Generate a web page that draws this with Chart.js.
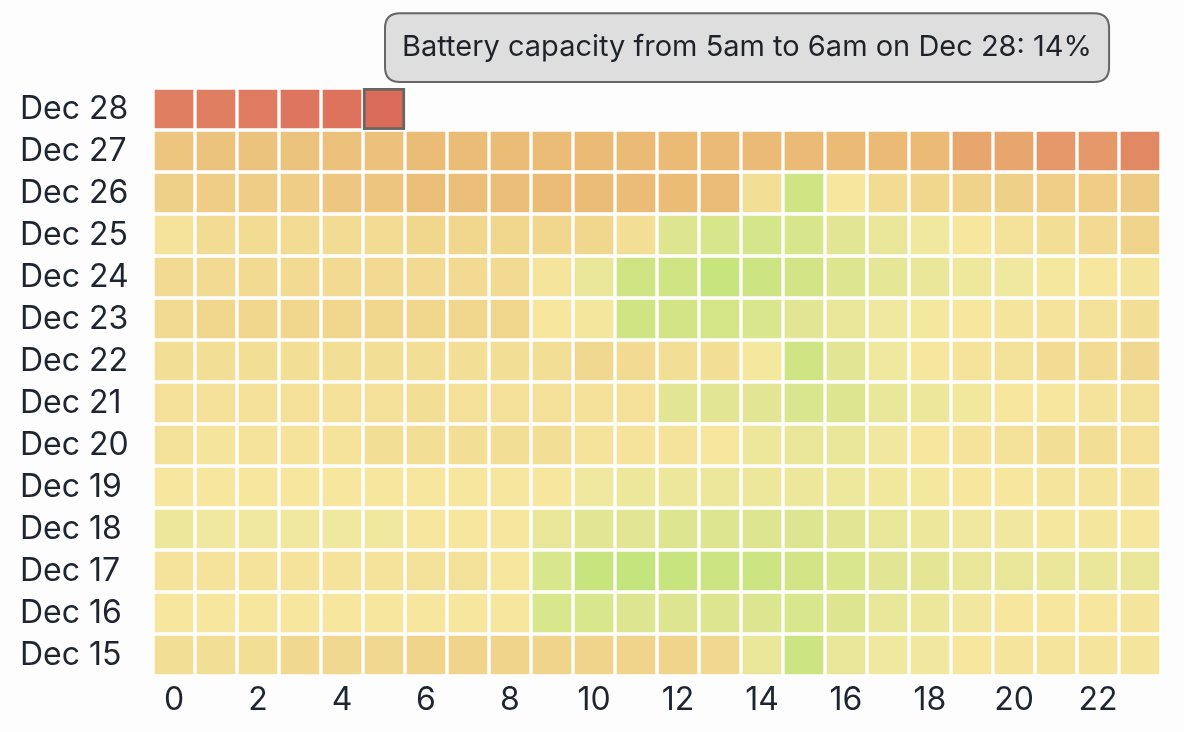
<!DOCTYPE html>
<html>
<head>
<meta charset="utf-8">
<script src="https://cdn.jsdelivr.net/npm/chart.js@4.4.1/dist/chart.umd.min.js"></script>
<style>
  html, body { margin: 0; padding: 0; background: #fdfdfd; }
  #wrap { position: relative; width: 1184px; height: 732px; }
</style>
</head>
<body>
<div id="wrap"><canvas id="c" width="1184" height="732"></canvas></div>
<script>
// ---- data (top to bottom rows) ----
const days = ['Dec 28', 'Dec 27', 'Dec 26', 'Dec 25', 'Dec 24', 'Dec 23', 'Dec 22',
              'Dec 21', 'Dec 20', 'Dec 19', 'Dec 18', 'Dec 17', 'Dec 16', 'Dec 15'];
const hours = [0,1,2,3,4,5,6,7,8,9,10,11,12,13,14,15,16,17,18,19,20,21,22,23];
const tickHours = [0,2,4,6,8,10,12,14,16,18,20,22];

const dec28 = [20, 20, 19, 17, 16, 14];
const dec27 = [46, 45, 45, 45, 44, 44, 41, 41, 41, 41, 40, 40, 40, 40, 40, 40, 40, 40, 40, 32, 32, 28, 28, 25];
const dec26 = [52, 50, 50, 50, 47, 46, 42, 42, 42, 41, 41, 41, 41, 41, 60, 91, 65, 59, 56, 54, 52, 51, 50, 49];
const dec25 = [63, 59, 59, 59, 59, 59, 56, 56, 56, 56, 56, 60, 81, 86, 87, 86, 78, 74, 70, 65, 62, 60, 58, 55];
const dec24 = [58, 58, 58, 58, 58, 58, 58, 58, 58, 64, 74, 91, 91, 96, 93, 89, 80, 76, 73, 71, 70, 67, 65, 64];
const dec23 = [58, 56, 56, 56, 56, 56, 56, 56, 56, 65, 66, 91, 89, 88, 84, 78, 75, 70, 67, 65, 64, 63, 62, 60];
const dec22 = [60, 60, 60, 60, 60, 60, 60, 60, 60, 60, 57, 58, 60, 60, 67, 91, 78, 70, 65, 63, 62, 59, 59, 57];
const dec21 = [61, 61, 61, 61, 61, 61, 60, 61, 61, 61, 61, 61, 78, 78, 78, 84, 82, 75, 72, 69, 65, 65, 63, 62];
const dec20 = [62, 64, 63, 63, 63, 60, 60, 60, 60, 60, 63, 63, 63, 65, 72, 75, 75, 68, 65, 63, 62, 60, 60, 61];
const dec19 = [65, 65, 65, 65, 65, 65, 65, 65, 65, 65, 70, 72, 72, 72, 72, 72, 71, 69, 67, 65, 65, 64, 64, 63];
const dec18 = [72, 70, 70, 70, 70, 70, 65, 65, 65, 75, 78, 78, 80, 80, 80, 82, 78, 75, 72, 70, 68, 67, 66, 65];
const dec17 = [63, 63, 63, 63, 63, 63, 62, 62, 65, 85, 96, 100, 96, 93, 93, 89, 84, 78, 77, 75, 75, 73, 73, 73];
const dec16 = [65, 65, 65, 65, 65, 65, 65, 65, 65, 85, 85, 80, 80, 80, 82, 85, 80, 75, 72, 68, 65, 65, 65, 64];
const dec15 = [60, 60, 60, 57, 57, 57, 55, 55, 55, 55, 55, 55, 55, 57, 73, 93, 75, 70, 68, 65, 64, 64, 64, 64];

const capacityByDay = [dec28, dec27, dec26, dec25, dec24, dec23, dec22,
                       dec21, dec20, dec19, dec18, dec17, dec16, dec15];

const hoveredDay = 'Dec 28';
const hoveredHour = 5;

// ---- colour scale ----
const colorStops = [
  [0, [212, 90, 82]], [14, [220, 108, 90]], [20, [224, 126, 98]], [25, [224, 137, 98]],
  [28, [229, 152, 105]], [32, [230, 166, 110]], [40, [235, 186, 116]], [45, [236, 195, 125]],
  [50, [239, 205, 134]], [55, [240, 212, 140]], [60, [243, 222, 150]], [65, [246, 230, 158]],
  [70, [240, 232, 158]], [75, [232, 230, 152]], [80, [222, 229, 145]], [85, [216, 230, 140]],
  [90, [209, 228, 132]], [95, [201, 228, 127]], [100, [196, 228, 125]]
];
function colorFor(v) {
  for (let i = 1; i < colorStops.length; i++) {
    const [v1, c1] = colorStops[i];
    const [v0, c0] = colorStops[i - 1];
    if (v <= v1) {
      const t = (v - v0) / (v1 - v0);
      const c = c0.map((a, k) => Math.round(a + (c1[k] - a) * t));
      return `rgb(${c[0]},${c[1]},${c[2]})`;
    }
  }
  const c = colorStops[colorStops.length - 1][1];
  return `rgb(${c[0]},${c[1]},${c[2]})`;
}
function hourLabel(h) {
  const hh = h % 24;
  if (hh === 0) return '12am';
  if (hh < 12) return hh + 'am';
  if (hh === 12) return '12pm';
  return (hh - 12) + 'pm';
}

// ---- build cells ----
const cells = [];
days.forEach((day, d) => {
  capacityByDay[d].forEach((v, i) => {
    const h = hours[i];
    cells.push({ x: [h - 0.5, h + 0.5], y: day, v: v, h: h });
  });
});

const FONT = "Inter, 'Noto Sans', 'DejaVu Sans', sans-serif";
const TEXT = '#1f2530';

Chart.Tooltip.positioners.aboveCell = function (items) {
  if (!items.length) return false;
  const el = items[0].element;
  const left = Math.min(el.x, el.base);
  return { x: left + 37, y: el.y - el.height / 2, xAlign: 'left', yAlign: 'bottom' };
};

const cellColor = ctx => colorFor(ctx.raw ? ctx.raw.v : 50);

const chart = new Chart(document.getElementById('c'), {
  type: 'bar',
  data: {
    labels: days,
    datasets: [{
      data: cells,
      backgroundColor: cellColor,
      hoverBackgroundColor: cellColor,
      borderColor: '#ffffff',
      hoverBorderColor: '#666666',
      borderWidth: 2,
      hoverBorderWidth: 3,
      borderSkipped: false,
      categoryPercentage: 1,
      barPercentage: 1,
      grouped: false
    }]
  },
  options: {
    indexAxis: 'y',
    responsive: false,
    animation: false,
    events: [],
    layout: { padding: { top: 88, right: 23, left: 20, bottom: 0 } },
    scales: {
      x: {
        type: 'linear',
        position: 'bottom',
        min: -0.5,
        max: 23.5,
        afterBuildTicks: s => { s.ticks = tickHours.map(v => ({ value: v })); },
        afterFit: s => { s.height = 56; },
        grid: { display: false, drawTicks: false },
        border: { display: false },
        ticks: { autoSkip: false, maxRotation: 0, padding: 5, color: TEXT,
                 font: { family: FONT, size: 32 } }
      },
      y: {
        type: 'category',
        afterFit: s => { s.width = 133; },
        grid: { display: false, drawTicks: false },
        border: { display: false },
        ticks: { crossAlign: 'far', padding: 0, color: TEXT,
                 font: { family: FONT, size: 32 } }
      }
    },
    plugins: {
      legend: { display: false },
      tooltip: {
        enabled: true,
        position: 'aboveCell',
        backgroundColor: '#dedede',
        borderColor: '#666666',
        borderWidth: 2,
        cornerRadius: 15,
        caretSize: 0,
        caretPadding: 6,
        displayColors: false,
        padding: { left: 17, right: 17, top: 17, bottom: 17 },
        bodyColor: '#1f2329',
        bodyFont: { family: FONT, size: 29 },
        callbacks: {
          title: () => [],
          label: ctx => `Battery capacity from ${hourLabel(ctx.raw.h)} to ${hourLabel(ctx.raw.h + 1)} on ${ctx.raw.y}: ${ctx.raw.v}%`
        }
      }
    }
  }
});

const idx = cells.findIndex(c => c.y === hoveredDay && c.h === hoveredHour);
chart.tooltip.setActiveElements([{ datasetIndex: 0, index: idx }], { x: 0, y: 0 });
chart.setActiveElements([{ datasetIndex: 0, index: idx }]);
chart.update();
</script>
</body>
</html>
